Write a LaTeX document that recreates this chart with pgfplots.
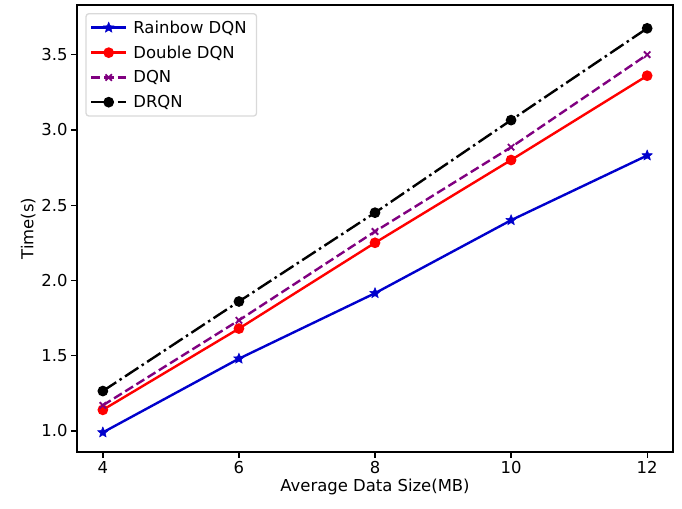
\documentclass[border=0pt]{standalone}
\usepackage{pgfplots}
\pgfplotsset{compat=1.18}
\usepackage{fontspec}
\setmainfont{DejaVu Sans}
\definecolor{rbblue}{HTML}{0000CC}
\definecolor{dqnpurple}{HTML}{800080}
% filled five-point star, like matplotlib's '*'
\pgfdeclareplotmark{fstar}{%
  \pgfpathmoveto{\pgfqpointpolar{90}{\pgfplotmarksize}}%
  \pgfpathlineto{\pgfqpointpolar{126}{0.45\pgfplotmarksize}}%
  \pgfpathlineto{\pgfqpointpolar{162}{\pgfplotmarksize}}%
  \pgfpathlineto{\pgfqpointpolar{198}{0.45\pgfplotmarksize}}%
  \pgfpathlineto{\pgfqpointpolar{234}{\pgfplotmarksize}}%
  \pgfpathlineto{\pgfqpointpolar{270}{0.45\pgfplotmarksize}}%
  \pgfpathlineto{\pgfqpointpolar{306}{\pgfplotmarksize}}%
  \pgfpathlineto{\pgfqpointpolar{342}{0.45\pgfplotmarksize}}%
  \pgfpathlineto{\pgfqpointpolar{18}{\pgfplotmarksize}}%
  \pgfpathlineto{\pgfqpointpolar{54}{0.45\pgfplotmarksize}}%
  \pgfpathclose
  \pgfusepathqfillstroke}
\begin{document}
\begin{tikzpicture}[x=1bp,y=1bp, font=\fontsize{16.5}{19}\selectfont]
% canvas to fix the page size
\path (0,0) rectangle (682,509);
\begin{axis}[
    at={(77bp,57bp)}, anchor=south west,
    scale only axis,
    width=596bp, height=447bp,
    xmin=3.62, xmax=12.38,
    ymin=0.86, ymax=3.83,
    xtick={4,6,8,10,12},
    ytick={1.0,1.5,2.0,2.5,3.0,3.5},
    xtick pos=bottom, ytick pos=left,
    yticklabel style={/pgf/number format/fixed,/pgf/number format/fixed zerofill,/pgf/number format/precision=1},
    /pgf/number format/assume math mode=true,
    tick label style={font=\fontsize{16.5}{19}\selectfont},
    label style={font=\fontsize{16.5}{19}\selectfont},
    tick align=outside,
    tick style={black, line width=1.3bp},
    major tick length=6bp,
    axis line style={line width=1.3bp},
    xlabel={Average Data Size(MB)},
    ylabel={Time(s)},
    xlabel style={yshift=2bp},
    ylabel style={yshift=-1bp},
    legend cell align=left,
    legend style={draw=black!15, rounded corners=3bp, line width=1.3bp,
        at={(0.014,0.982)}, anchor=north west, inner xsep=4bp, inner ysep=6bp,
        row sep=9bp, font=\fontsize{16.5}{19}\selectfont,
        nodes={inner ysep=1bp, inner xsep=6bp}},
    legend image code/.code={
        \draw[mark repeat=2,mark phase=2,#1]
            plot coordinates {(0bp,0bp) (17.5bp,0bp) (35bp,0bp)};},
]
\addplot[color=rbblue, line width=2.4bp, sharp plot, mark=fstar, mark size=5.5bp, mark options={solid, line width=0.5bp}]
  coordinates {(4,0.99) (6,1.48) (8,1.915) (10,2.40) (12,2.83)};
\addplot[color=red, line width=2.4bp, sharp plot, mark=*, mark size=4.1bp, mark options={solid}]
  coordinates {(4,1.14) (6,1.68) (8,2.25) (10,2.80) (12,3.36)};
\addplot[color=dqnpurple, line width=2.4bp, sharp plot, dash pattern=on 9.2bp off 4bp, mark=x, mark size=4.5bp, mark options={solid, line width=1.8bp}]
  coordinates {(4,1.17) (6,1.735) (8,2.325) (10,2.885) (12,3.50)};
\addplot[color=black, line width=2.4bp, sharp plot, dash pattern=on 16bp off 4bp on 2.5bp off 4bp, mark=*, mark size=4.1bp, mark options={solid}]
  coordinates {(4,1.265) (6,1.86) (8,2.45) (10,3.065) (12,3.675)};
\legend{Rainbow DQN, Double DQN, DQN, DRQN}
\end{axis}
\end{tikzpicture}
\end{document}
